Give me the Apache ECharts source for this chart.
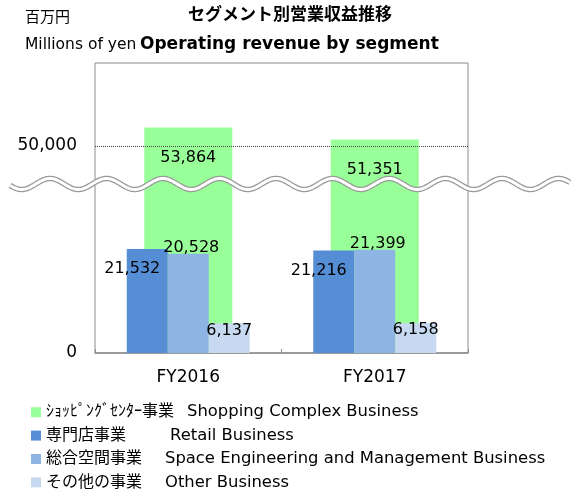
<!DOCTYPE html>
<html>
<head>
<meta charset="utf-8">
<script src="https://cdn.jsdelivr.net/npm/echarts@6/dist/echarts.min.js"></script>
<style>
  html, body { margin: 0; padding: 0; background: #fff; }
  #main { width: 573px; height: 489px; }
</style>
</head>
<body>
<div id="main"></div>
<script>
// data
var years = ['FY2016', 'FY2017'];
var shopping = [53864, 51351];
var retail = [21532, 21216];
var space = [20528, 21399];
var other = [6137, 6158];
var seriesJp = ['ｼｮｯﾋﾟﾝｸﾞｾﾝﾀｰ事業', '専門店事業', '総合空間事業', 'その他の事業'];
var seriesEn = ['Shopping Complex Business', 'Retail Business', 'Space Engineering and Management Business', 'Other Business'];
var yTicks = [0, 50000];
var breakFrom = 35000;
var breakTo = 42150;

var FONT = '"DejaVu Sans", "Noto Sans CJK JP", sans-serif';
var colors = ['#99FF99', '#558ED5', '#8EB4E3', '#C6D9F1'];
// room for the japanese part of each legend row
var jpWidth = [141, 124, 119, 119];

function fmt(v) {
  return Number(v).toLocaleString('en-US');
}

var chartDom = document.getElementById('main');
var myChart = echarts.init(chartDom, null, { renderer: 'canvas' });

var names = seriesJp.map(function (j, i) { return j + '|' + seriesEn[i]; });
var rich = { en: { fontFamily: FONT, fontSize: 16.4, color: '#000' } };
jpWidth.forEach(function (w, i) {
  rich['j' + i] = { fontFamily: FONT, fontSize: 16, color: '#000', width: w };
});

var labelBase = {
  show: true,
  color: '#000',
  fontFamily: FONT,
  fontSize: 16,
  formatter: function (p) { return fmt(p.value); }
};

var option = {
  animation: false,
  backgroundColor: '#fff',
  color: colors,
  title: [
    { text: '百万円', left: 25, top: 11, padding: 0, textStyle: { fontFamily: FONT, fontSize: 15, fontWeight: 'normal', color: '#000' } },
    { text: 'Millions of yen', left: 25, top: 37, padding: 0, textStyle: { fontFamily: FONT, fontSize: 15.5, fontWeight: 'normal', color: '#000' } },
    { text: 'セグメント別営業収益推移', left: 188, top: 7, padding: 0, textStyle: { fontFamily: FONT, fontSize: 17, fontWeight: 'bold', color: '#000' } },
    { text: 'Operating revenue by segment', left: 140, top: 36, padding: 0, textStyle: { fontFamily: FONT, fontSize: 17, fontWeight: 'bold', color: '#000' } }
  ],
  legend: {
    orient: 'vertical',
    left: 26,
    top: 399,
    height: 120,
    itemWidth: 10,
    itemHeight: 10,
    itemGap: 7,
    icon: 'rect',
    data: names,
    formatter: function (name) {
      var i = names.indexOf(name);
      return '{j' + i + '|' + seriesJp[i] + '}{en|' + seriesEn[i] + '}';
    },
    textStyle: { fontFamily: FONT, fontSize: 16, color: '#000', rich: rich }
  },
  grid: {
    left: 95,
    right: 105,
    top: 63,
    bottom: 136,
    show: true,
    borderColor: '#8c8c8c',
    borderWidth: 1,
    containLabel: false
  },
  xAxis: [
    {
      type: 'category',
      data: years,
      axisLine: { lineStyle: { color: '#8c8c8c', width: 1.5 } },
      axisTick: { show: true, inside: true, length: 4, lineStyle: { color: '#8c8c8c' } },
      axisLabel: { color: '#000', fontFamily: FONT, fontSize: 17, margin: 16 }
    },
    {
      type: 'category',
      data: years,
      show: false
    }
  ],
  yAxis: {
    type: 'value',
    min: 0,
    max: 67200,
    breaks: [{ start: breakFrom, end: breakTo, gap: 0 }],
    breakArea: { show: false },
    axisLine: { show: false },
    axisTick: { show: false },
    splitLine: { show: false },
    axisLabel: {
      show: true,
      customValues: yTicks,
      color: '#000',
      fontFamily: FONT,
      fontSize: 17,
      margin: 18,
      padding: [4, 0, 0, 0],
      formatter: function (v) { return fmt(v); }
    }
  },
  series: [
    {
      name: names[0],
      type: 'bar',
      xAxisIndex: 1,
      barWidth: 88,
      data: shopping,
      z: 1,
      label: Object.assign({}, labelBase, { position: 'insideTop', distance: 22 }),
      markLine: {
        silent: true,
        symbol: 'none',
        label: { show: false },
        lineStyle: { type: 'dotted', color: '#444', width: 1 },
        data: [{ yAxis: yTicks[1] }]
      }
    },
    {
      name: names[1],
      type: 'bar',
      barWidth: 41,
      barGap: 0,
      data: retail,
      z: 2,
      label: Object.assign({}, labelBase, { position: 'insideTop', distance: 12, offset: [-15, 0] })
    },
    {
      name: names[2],
      type: 'bar',
      barWidth: 41,
      barGap: 0,
      data: space,
      z: 2,
      label: Object.assign({}, labelBase, { position: 'top', distance: -2, offset: [3, 0] })
    },
    {
      name: names[3],
      type: 'bar',
      barWidth: 41,
      barGap: 0,
      data: other,
      z: 2,
      label: Object.assign({}, labelBase, { position: 'insideTop', distance: -1 })
    }
  ]
};

myChart.setOption(option);

// wavy break mark across the chart
var waveY = myChart.convertToPixel({ yAxisIndex: 0 }, breakFrom);
var pts = [];
for (var x = 10; x <= 570; x += 1) {
  pts.push([x, waveY - 5.5 * Math.cos(2 * Math.PI * (x - 50) / 56.5)]);
}
myChart.setOption({
  graphic: [
    { type: 'polyline', z: 100, silent: true, shape: { points: pts }, style: { stroke: '#999', lineWidth: 5.5, fill: null } },
    { type: 'polyline', z: 101, silent: true, shape: { points: pts }, style: { stroke: '#fff', lineWidth: 3, fill: null } }
  ]
});
</script>
</body>
</html>
